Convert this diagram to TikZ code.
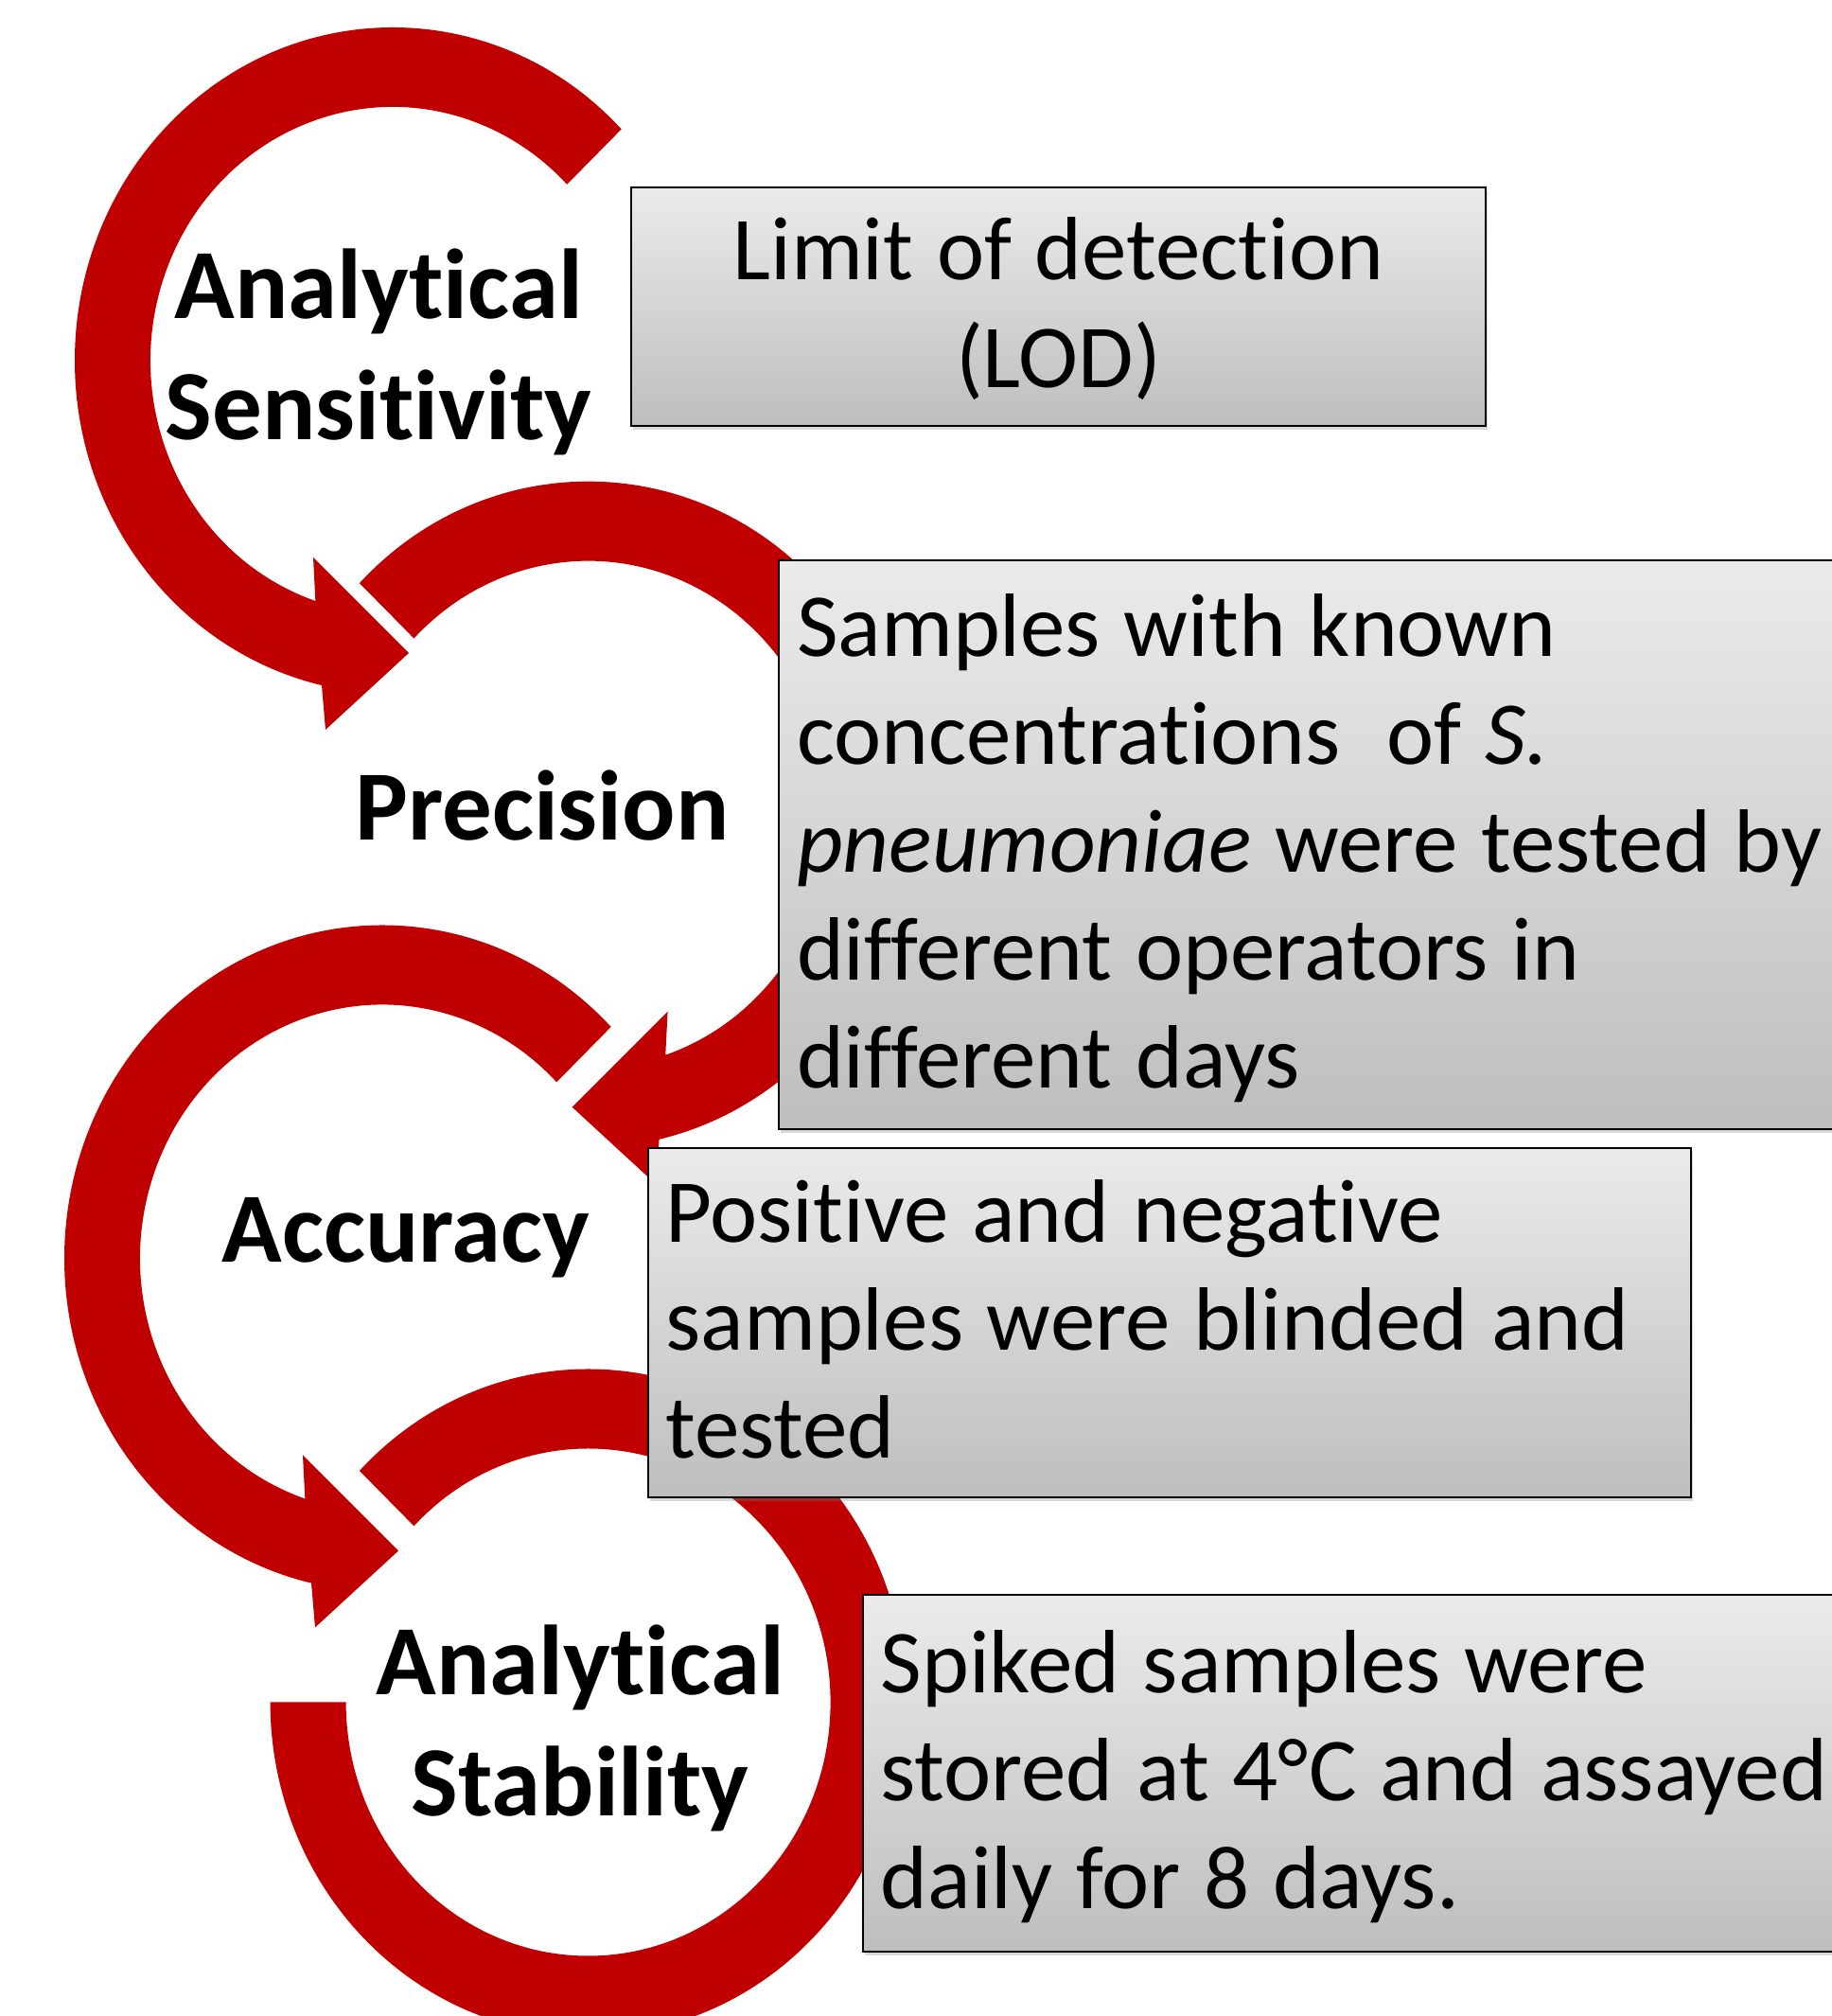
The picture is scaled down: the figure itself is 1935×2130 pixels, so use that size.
\documentclass[tikz,border=0pt]{standalone}
\usepackage{fontspec}
\setmainfont{Carlito}[Ligatures=NoCommon, RawFeature=-calt, WordSpace=1.15]
\usetikzlibrary{shadows}

\definecolor{ringred}{RGB}{192,0,0}
\definecolor{boxtop}{RGB}{235,235,235}
\definecolor{boxbot}{RGB}{190,190,190}

% struts that fix the top of the first line and the bottom of the last one;
% the first one also sets a fixed word space (no stretch)
\newcommand{\firststrut}{\spaceskip=\fontdimen2\font\xspaceskip=\fontdimen2\font\rule{0pt}{44pt}}
\newcommand{\laststrut}{\rule[-15pt]{0pt}{15pt}}

\tikzset{
  ringarc/.style={fill=ringred},
  stagelabel/.style={font=\fontsize{52.5}{64}\selectfont\bfseries, text width=300pt,
    align=center, anchor=base, inner sep=0pt},
  notebox/.style={draw=black, line width=1pt, top color=boxtop, bottom color=boxbot,
    anchor=north west, inner xsep=9.5pt, inner ysep=0pt, font=\fontsize{47.5}{57}\selectfont,
    drop shadow={shadow xshift=1pt, shadow yshift=-2pt, opacity=0.3}},
  pics/cyclearrow/.style={code={
    \fill[ringarc] (44:336 and 352)
      arc[start angle=44, end angle=257.1, x radius=336, y radius=352]
      -- (-71,-390) -- (17,-309) -- (-84,-208)
      -- (251.4:256 and 268)
      arc[start angle=251.4, end angle=44, x radius=256, y radius=268] -- cycle;
  }}
}

\begin{document}
\begin{tikzpicture}[x=0.5pt, y=0.5pt]
    \useasboundingbox (0,0) rectangle (1935,2130);

    % Circular arrows from one stage to the next
    \pic at (415,1749) {cyclearrow};
    \pic[xscale=-1] at (621.6,1269.3) {cyclearrow};
    \pic at (404,800.5) {cyclearrow};

    % Last ring, blunt end on the left
    \fill[ringarc] (621.6,331.5) ++(136:336 and 352)
      arc[start angle=136, end angle=-180, x radius=336, y radius=352] -- ++(80,0)
      arc[start angle=-180, end angle=136, x radius=256, y radius=268] -- cycle;

    % Stage names
    \node[stagelabel] (sensitivity) at (400,1793.3) {Analytical\\Sensitivity};
    \node[stagelabel] (precision) at (573,1242.2) {Precision};
    \node[stagelabel] (accuracy) at (429,796.3) {Accuracy};
    \node[stagelabel] (stability) at (613,339.5) {Analytical\\Stability};

    % Description boxes
    \node[notebox, text width=432.5pt, align=center, minimum height=126pt] (lodbox) at (666,1933)
      {\firststrut Limit of detection\\(LOD)\laststrut};
    \node[notebox, text width=570pt, align=left, minimum height=300.5pt] (precbox) at (822,1539)
      {\firststrut Samples with known\\concentrations\ \ of \textit{S.}\\\textit{pneumoniae} were tested by\\different operators in\\different days\laststrut};
    \node[notebox, text width=532.1pt, align=left, minimum height=184.35pt] (accbox) at (683.5,918)
      {\firststrut Positive and negative\\samples were blinded and\\tested\laststrut};
    \node[notebox, text width=525.65pt, align=left, minimum height=188.35pt] (stabbox) at (910.7,445.7)
      {\firststrut Spiked samples were\\stored at 4°C and assayed\\daily for 8 days.\laststrut};
\end{tikzpicture}
\end{document}
